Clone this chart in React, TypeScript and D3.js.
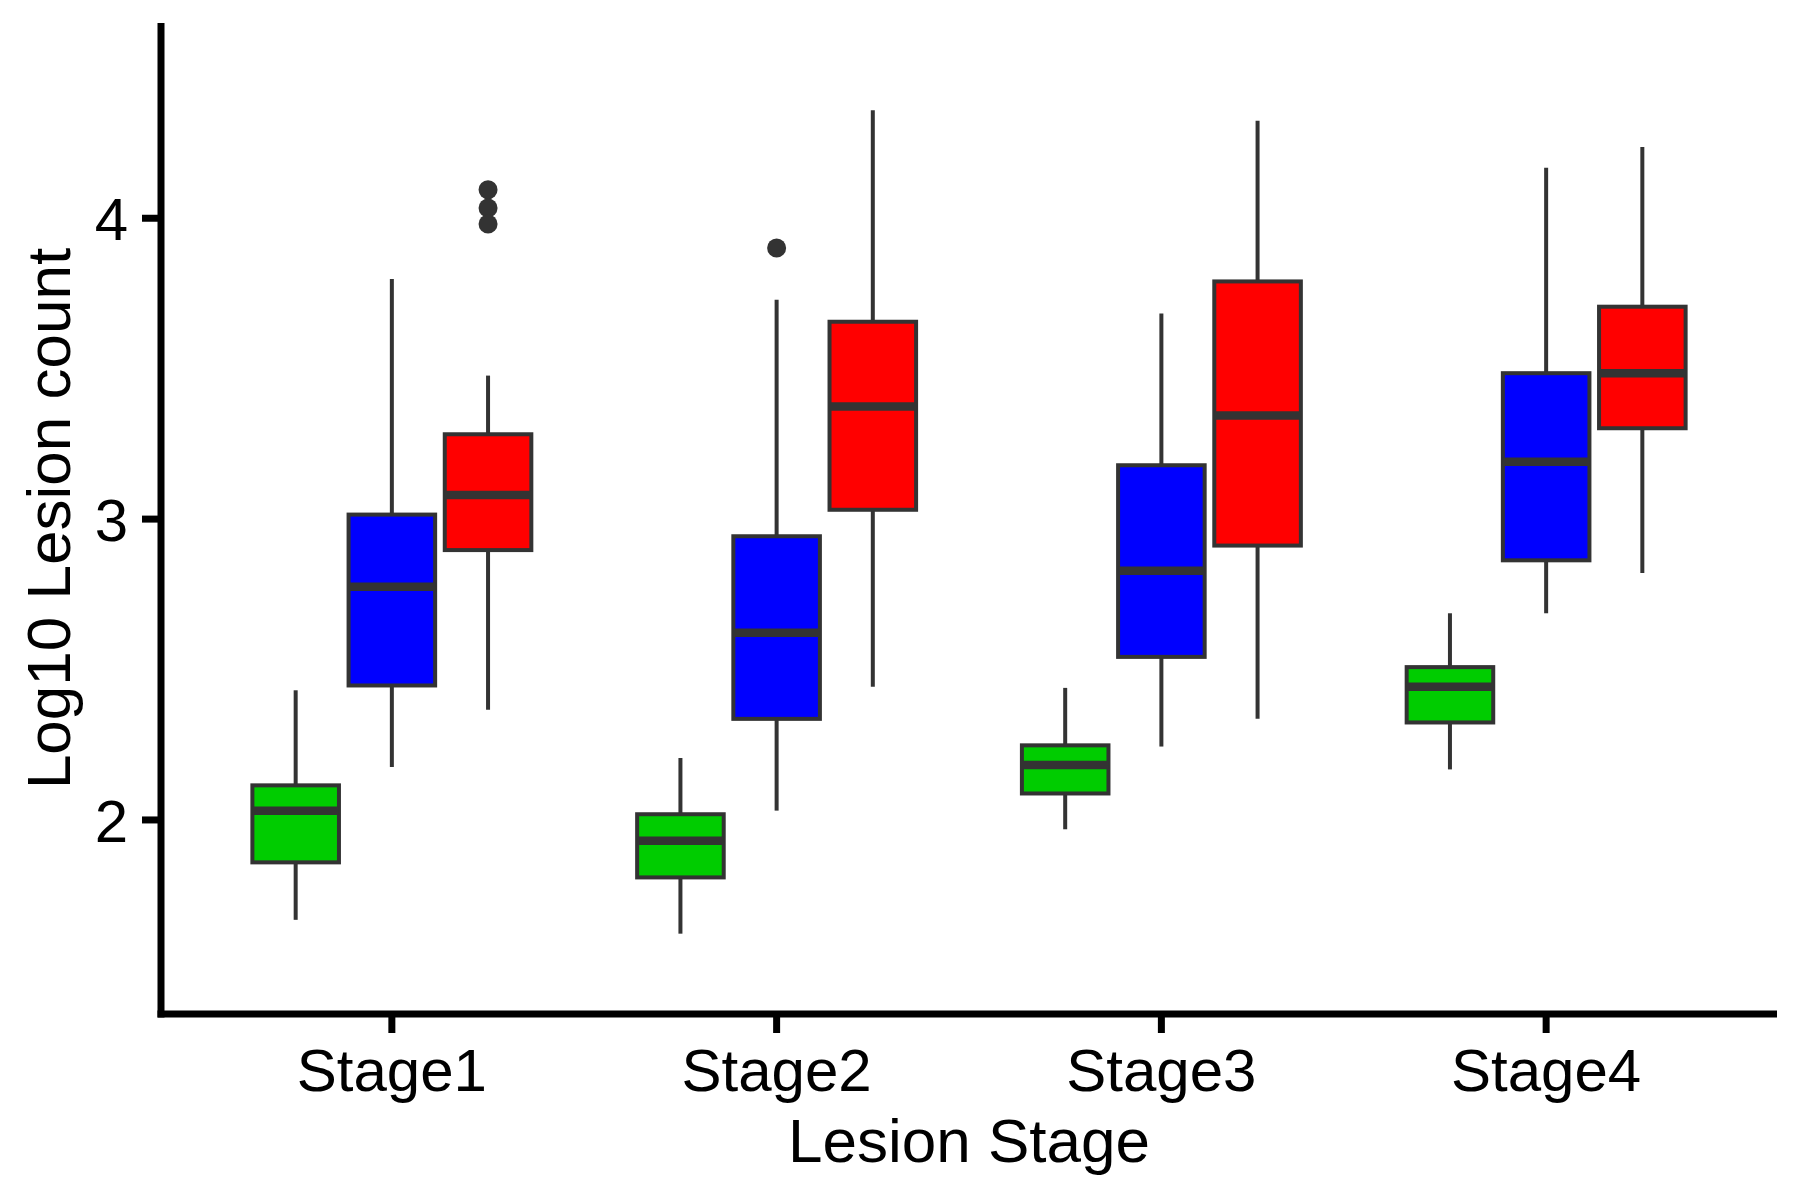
import React from "react";
import * as d3 from "d3";

const stages = ["Stage1", "Stage2", "Stage3", "Stage4"];
const groups = ["green", "blue", "red"];
const groupColors = ["#00CC00", "#0000FF", "#FF0000"];

// per group, per stage: [lowerWhisker, q1, median, q3, upperWhisker]
const greenStats = [
  [1.668, 1.859, 2.031, 2.115, 2.431],
  [1.622, 1.809, 1.931, 2.019, 2.206],
  [1.969, 2.088, 2.183, 2.248, 2.439],
  [2.168, 2.324, 2.443, 2.508, 2.687],
];
const blueStats = [
  [2.176, 2.447, 2.775, 3.015, 3.798],
  [2.031, 2.336, 2.622, 2.943, 3.729],
  [2.244, 2.542, 2.828, 3.179, 3.683],
  [2.687, 2.863, 3.191, 3.485, 4.168],
];
const redStats = [
  [2.366, 2.897, 3.080, 3.282, 3.477],
  [2.443, 3.031, 3.374, 3.656, 4.359],
  [2.336, 2.912, 3.344, 3.790, 4.324],
  [2.821, 3.302, 3.485, 3.706, 4.237],
];
const greenOutliers = [[], [], [], []];
const blueOutliers = [[], [3.901], [], []];
const redOutliers = [[4.095, 4.034, 3.981], [], [], []];

const yTicks = [2, 3, 4];

const allStats = [greenStats, blueStats, redStats];
const allOutliers = [greenOutliers, blueOutliers, redOutliers];

const W = 1800;
const H = 1200;
const left = 161;
const right = 1777;
const top = 23;
const bottom = 1014;

export default function App() {
  const x = d3.scaleLinear().domain([0.4, 4.6]).range([left, right]);
  const y = d3.scaleLinear().domain([1.355, 4.649]).range([bottom, top]);
  const dodge = 0.25;
  const bw = 0.225;
  const outline = "#333333";
  const sw = 4;

  const boxes: React.ReactNode[] = [];
  stages.forEach((s, si) => {
    groups.forEach((g, gi) => {
      const st = allStats[gi][si];
      const cx = x(si + 1 + (gi - 1) * dodge);
      const x0 = x(si + 1 + (gi - 1) * dodge - bw / 2);
      const x1 = x(si + 1 + (gi - 1) * dodge + bw / 2);
      boxes.push(
        <g key={`${s}-${g}`}>
          <line x1={cx} x2={cx} y1={y(st[4])} y2={y(st[3])} stroke={outline} strokeWidth={sw} />
          <line x1={cx} x2={cx} y1={y(st[1])} y2={y(st[0])} stroke={outline} strokeWidth={sw} />
          <rect
            x={x0}
            y={y(st[3])}
            width={x1 - x0}
            height={y(st[1]) - y(st[3])}
            fill={groupColors[gi]}
            stroke={outline}
            strokeWidth={sw}
          />
          <line x1={x0} x2={x1} y1={y(st[2])} y2={y(st[2])} stroke={outline} strokeWidth={8.5} />
          {allOutliers[gi][si].map((v, k) => (
            <circle key={k} cx={cx} cy={y(v)} r={9.5} fill={outline} />
          ))}
        </g>
      );
    });
  });

  const font = "'Liberation Sans', Arial, Helvetica, sans-serif";

  return (
    <svg
      width={W}
      height={H}
      style={{ position: "absolute", left: 0, top: 0, background: "#fff" }}
      fontFamily={font}
    >
      <rect x={0} y={0} width={W} height={H} fill="#fff" />
      {boxes}
      {/* axes */}
      <line x1={left} x2={left} y1={top} y2={bottom + 3.5} stroke="#000" strokeWidth={7} />
      <line x1={left - 3.5} x2={right} y1={bottom} y2={bottom} stroke="#000" strokeWidth={7} />
      {yTicks.map((t) => (
        <g key={t}>
          <line x1={left - 19} x2={left} y1={y(t)} y2={y(t)} stroke="#000" strokeWidth={7} />
          <text x={left - 33} y={y(t)} dy="0.36em" textAnchor="end" fontSize={60} fill="#000">
            {t}
          </text>
        </g>
      ))}
      {stages.map((s, i) => (
        <g key={s}>
          <line x1={x(i + 1)} x2={x(i + 1)} y1={bottom} y2={bottom + 19} stroke="#000" strokeWidth={7} />
          <text x={x(i + 1)} y={1091} textAnchor="middle" fontSize={60} fill="#000">
            {s}
          </text>
        </g>
      ))}
      <text x={(left + right) / 2} y={1162} textAnchor="middle" fontSize={62} fill="#000">
        Lesion Stage
      </text>
      <text
        transform={`translate(70, ${(top + bottom) / 2}) rotate(-90)`}
        textAnchor="middle"
        fontSize={62}
        fill="#000"
      >
        Log10 Lesion count
      </text>
    </svg>
  );
}
